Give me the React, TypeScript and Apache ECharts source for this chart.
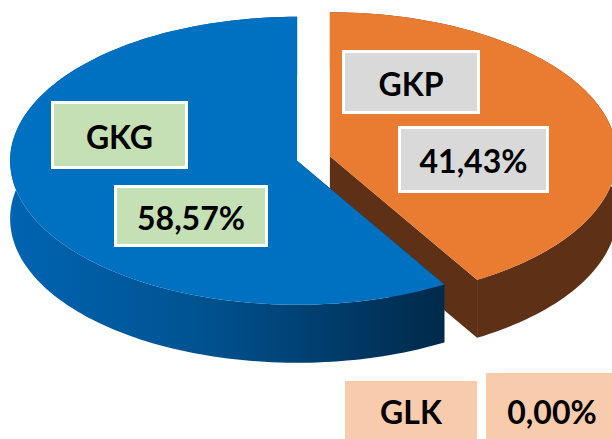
import React, { useEffect, useRef } from 'react';
import * as echarts from 'echarts';

// ---- data ----
const CATEGORIES = ['GKG', 'GKP', 'GLK'];
const VALUES = [58.57, 41.43, 0.0];

// ---- styles / layout ----
const TOP_COLORS = ['#0070C0', '#EA7C32', '#F4B183'];
const BOX_FILLS = ['#C5E0B4', '#D9D9D9', '#F8CBAD'];
const BOX_BORDER = [true, true, false];
// [x, y, w, h] outer bounds of label boxes
const NAME_BOXES = [
  [51, 101, 137, 68],
  [342, 50, 138, 64],
  [345, 381, 132, 64],
];
const VALUE_BOXES = [
  [114, 185, 154, 62],
  [398, 126, 151, 67],
  [486, 373, 132, 72],
];

const CX = 313.5;
const CY = 158.5;
const RX = 287;
const RY = 144;
const DEPTH = 58;
const EXPLODE = 17;
const START_DEG = 90;

function sideFill(i: number) {
  if (i === 0) {
    return new echarts.graphic.LinearGradient(0, 0, 1, 0, [
      { offset: 0, color: '#0064B2' },
      { offset: 0.45, color: '#00528F' },
      { offset: 1, color: '#00294A' },
    ]);
  }
  if (i === 1) return '#5E3016';
  return '#A0603A';
}

const rad = (d: number) => (d * Math.PI) / 180;

function renderItem(params: any, api: any) {
  const i = params.dataIndex;
  const v = api.value(0) as number;
  const total = VALUES.reduce((a, b) => a + b, 0);
  let cum = 0;
  for (let j = 0; j < i; j++) cum += VALUES[j];
  const a0 = START_DEG + (cum / total) * 360;
  const a1 = a0 + (v / total) * 360;
  const mid = rad((a0 + a1) / 2);
  // paint order: slices farther from the front (270deg) first
  const dist = Math.abs(((((a0 + a1) / 2 - 270) % 360) + 540) % 360 - 180);
  const base = Math.round((180 - dist) / 18) * 10 + 10;

  const ox = CX + EXPLODE * Math.cos(mid);
  const oy = CY - EXPLODE * (RY / RX) * Math.sin(mid);
  const pt = (deg: number, dz = 0) => [
    ox + RX * Math.cos(rad(deg)),
    oy - RY * Math.sin(rad(deg)) + dz,
  ];

  const children: any[] = [];
  if (v > 0) {
    const steps = Math.max(8, Math.ceil((a1 - a0) / 1.5));
    const topArc: number[][] = [];
    const botArc: number[][] = [];
    for (let s = 0; s <= steps; s++) {
      const d = a0 + ((a1 - a0) * s) / steps;
      topArc.push(pt(d));
      botArc.push(pt(d, DEPTH));
    }
    const side = sideFill(i);
    const cutWall = (deg: number, front: boolean) => ({
      type: 'polygon',
      z2: base + (front ? 3 : 1),
      shape: { points: [[ox, oy], pt(deg), pt(deg, DEPTH), [ox, oy + DEPTH]] },
      style: { fill: i === 0 ? '#003F70' : side },
    });
    children.push(cutWall(a0, Math.sin(rad(a0 - 90)) < 0));
    children.push(cutWall(a1, Math.sin(rad(a1 + 90)) < 0));
    children.push({
      type: 'polygon',
      z2: base + 2,
      shape: { points: topArc.concat(botArc.slice().reverse()) },
      style: { fill: side },
    });
    children.push({
      type: 'polygon',
      z2: base + 5,
      shape: { points: [[ox, oy]].concat(topArc) },
      style: { fill: TOP_COLORS[i] },
    });
  }

  const share = total > 0 ? (v / total) * 100 : 0;
  const labels = [CATEGORIES[i], share.toFixed(2).replace('.', ',') + '%'];
  [NAME_BOXES[i], VALUE_BOXES[i]].forEach((b, k) => {
    const bw = BOX_BORDER[i] ? 3 : 0;
    children.push({
      type: 'rect',
      z2: 200,
      shape: { x: b[0] + bw / 2, y: b[1] + bw / 2, width: b[2] - bw, height: b[3] - bw },
      style: {
        fill: BOX_FILLS[i],
        stroke: BOX_BORDER[i] ? '#FFFFFF' : null,
        lineWidth: bw,
      },
    });
    children.push({
      type: 'text',
      z2: 201,
      style: {
        text: labels[k],
        x: b[0] + b[2] / 2,
        y: i === 2 ? 411 : b[1] + b[3] / 2 + 1,
        align: 'center',
        verticalAlign: 'middle',
        fill: '#000000',
        font: 'bold 32px Lato',
      },
    });
  });

  return { type: 'group', children };
}

export default function App() {
  const ref = useRef<HTMLDivElement>(null);
  useEffect(() => {
    document.body.style.margin = '0';
    const chart = echarts.init(ref.current!, null, { renderer: 'svg' });
    chart.setOption({
      animation: false,
      backgroundColor: '#FFFFFF',
      series: [
        {
          type: 'custom',
          coordinateSystem: 'none',
          silent: true,
          renderItem,
          data: VALUES.map((v, idx) => ({ name: CATEGORIES[idx], value: v })),
        },
      ],
    });
    return () => chart.dispose();
  }, []);
  return <div ref={ref} style={{ width: 612, height: 439 }} />;
}
